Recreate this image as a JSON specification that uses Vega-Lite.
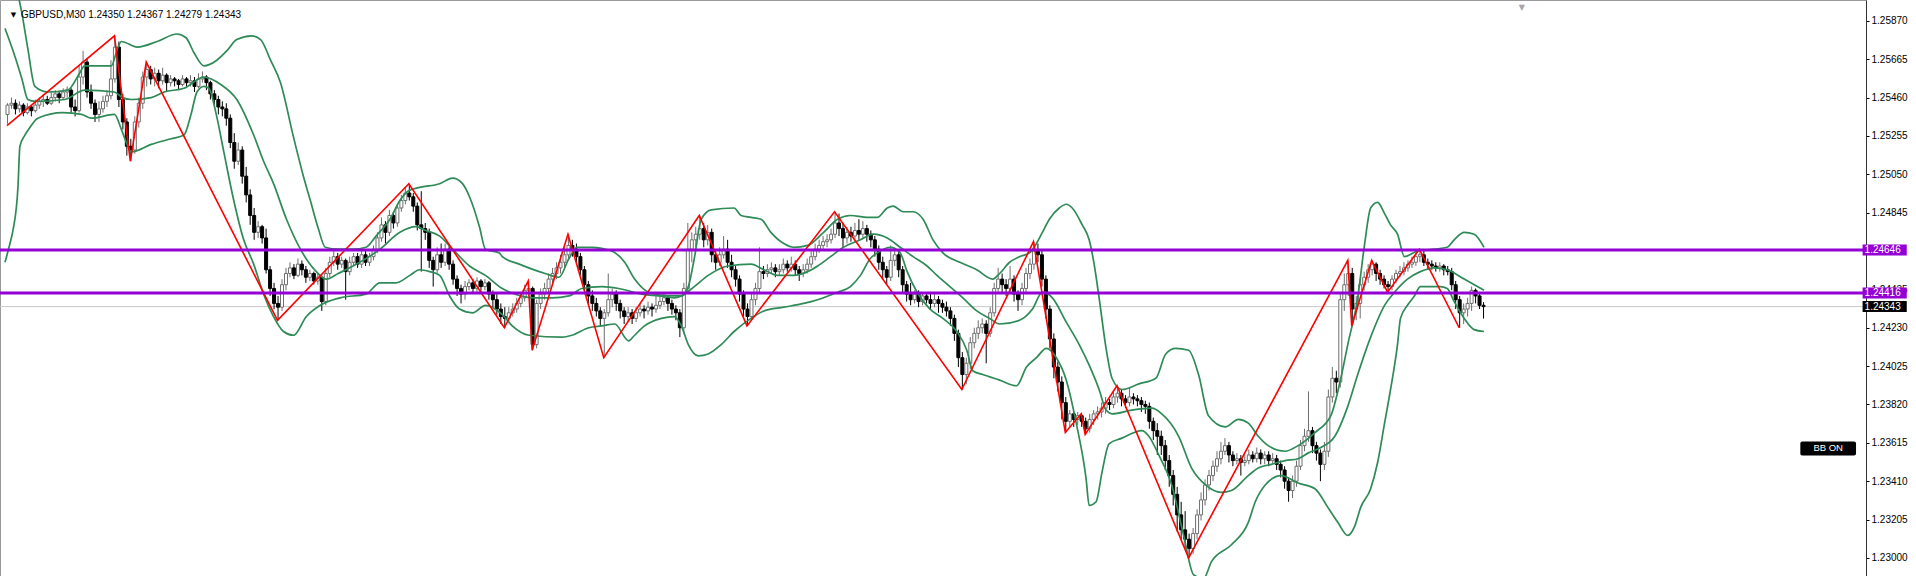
{
"$schema":"https://vega.github.io/schema/vega-lite/v6.json",
"width":1866,"height":576,
"padding":{"left":0,"top":0,"right":50,"bottom":0},
"autosize":{"type":"none"},
"background":"white",
"view":{"stroke":"#9a9a9a","strokeWidth":1},
"config":{"font":"Liberation Sans"},
"datasets":{
"candles":[
{"i":0,"o":1.2537,"h":1.2543,"l":1.2532,"c":1.2542},{"i":1,"o":1.2542,"h":1.2546,"l":1.2540,"c":1.2543},{"i":2,"o":1.2543,"h":1.2545,"l":1.2537,"c":1.2540},{"i":3,"o":1.2540,"h":1.2544,"l":1.2538,"c":1.2542},{"i":4,"o":1.2542,"h":1.2543,"l":1.2536,"c":1.2538},{"i":5,"o":1.2538,"h":1.2543,"l":1.2537,"c":1.2541},{"i":6,"o":1.2541,"h":1.2542,"l":1.2536,"c":1.2539},{"i":7,"o":1.2539,"h":1.2545,"l":1.2538,"c":1.2542},{"i":8,"o":1.2542,"h":1.2546,"l":1.2540,"c":1.2544},{"i":9,"o":1.2544,"h":1.2548,"l":1.2541,"c":1.2545},
{"i":10,"o":1.2545,"h":1.2547,"l":1.2542,"c":1.2543},{"i":11,"o":1.2543,"h":1.2549,"l":1.2542,"c":1.2546},{"i":12,"o":1.2546,"h":1.2550,"l":1.2544,"c":1.2548},{"i":13,"o":1.2548,"h":1.2549,"l":1.2543,"c":1.2546},{"i":14,"o":1.2546,"h":1.2551,"l":1.2545,"c":1.2549},{"i":15,"o":1.2549,"h":1.2552,"l":1.2546,"c":1.2550},{"i":16,"o":1.2550,"h":1.2551,"l":1.2538,"c":1.2541},{"i":17,"o":1.2541,"h":1.2545,"l":1.2536,"c":1.2539},{"i":18,"o":1.2539,"h":1.2563,"l":1.2538,"c":1.2557},{"i":19,"o":1.2557,"h":1.2571,"l":1.2553,"c":1.2565},
{"i":20,"o":1.2565,"h":1.2567,"l":1.2546,"c":1.2549},{"i":21,"o":1.2549,"h":1.2553,"l":1.2540,"c":1.2543},{"i":22,"o":1.2543,"h":1.2545,"l":1.2533,"c":1.2537},{"i":23,"o":1.2537,"h":1.2544,"l":1.2533,"c":1.2540},{"i":24,"o":1.2540,"h":1.2547,"l":1.2538,"c":1.2544},{"i":25,"o":1.2544,"h":1.2550,"l":1.2541,"c":1.2547},{"i":26,"o":1.2547,"h":1.2566,"l":1.2545,"c":1.2556},{"i":27,"o":1.2556,"h":1.2579,"l":1.2554,"c":1.2573},{"i":28,"o":1.2573,"h":1.2576,"l":1.2541,"c":1.2545},{"i":29,"o":1.2545,"h":1.2548,"l":1.2529,"c":1.2533},
{"i":30,"o":1.2533,"h":1.2535,"l":1.2515,"c":1.2520},{"i":31,"o":1.2520,"h":1.2524,"l":1.2512,"c":1.2518},{"i":32,"o":1.2518,"h":1.2536,"l":1.2516,"c":1.2533},{"i":33,"o":1.2533,"h":1.2546,"l":1.2530,"c":1.2543},{"i":34,"o":1.2543,"h":1.2560,"l":1.2540,"c":1.2557},{"i":35,"o":1.2557,"h":1.2565,"l":1.2552,"c":1.2561},{"i":36,"o":1.2561,"h":1.2563,"l":1.2553,"c":1.2556},{"i":37,"o":1.2556,"h":1.2562,"l":1.2552,"c":1.2559},{"i":38,"o":1.2559,"h":1.2561,"l":1.2551,"c":1.2555},{"i":39,"o":1.2555,"h":1.2562,"l":1.2553,"c":1.2558},
{"i":40,"o":1.2558,"h":1.2559,"l":1.2549,"c":1.2554},{"i":41,"o":1.2554,"h":1.2558,"l":1.2552,"c":1.2556},{"i":42,"o":1.2556,"h":1.2557,"l":1.2552,"c":1.2555},{"i":43,"o":1.2555,"h":1.2556,"l":1.2550,"c":1.2553},{"i":44,"o":1.2553,"h":1.2558,"l":1.2552,"c":1.2556},{"i":45,"o":1.2556,"h":1.2557,"l":1.2552,"c":1.2554},{"i":46,"o":1.2554,"h":1.2558,"l":1.2552,"c":1.2555},{"i":47,"o":1.2555,"h":1.2557,"l":1.2549,"c":1.2552},{"i":48,"o":1.2552,"h":1.2559,"l":1.2551,"c":1.2556},{"i":49,"o":1.2556,"h":1.2560,"l":1.2554,"c":1.2557},
{"i":50,"o":1.2557,"h":1.2558,"l":1.2550,"c":1.2554},{"i":51,"o":1.2554,"h":1.2555,"l":1.2545,"c":1.2548},{"i":52,"o":1.2548,"h":1.2550,"l":1.2542,"c":1.2545},{"i":53,"o":1.2545,"h":1.2547,"l":1.2537,"c":1.2541},{"i":54,"o":1.2541,"h":1.2544,"l":1.2536,"c":1.2540},{"i":55,"o":1.2540,"h":1.2543,"l":1.2531,"c":1.2535},{"i":56,"o":1.2535,"h":1.2537,"l":1.2519,"c":1.2522},{"i":57,"o":1.2522,"h":1.2527,"l":1.2508,"c":1.2512},{"i":58,"o":1.2512,"h":1.2522,"l":1.2510,"c":1.2518},{"i":59,"o":1.2518,"h":1.2520,"l":1.2500,"c":1.2504},
{"i":60,"o":1.2504,"h":1.2509,"l":1.2490,"c":1.2494},{"i":61,"o":1.2494,"h":1.2497,"l":1.2478,"c":1.2483},{"i":62,"o":1.2483,"h":1.2487,"l":1.2470,"c":1.2474},{"i":63,"o":1.2474,"h":1.2480,"l":1.2471,"c":1.2477},{"i":64,"o":1.2477,"h":1.2478,"l":1.2468,"c":1.2471},{"i":65,"o":1.2471,"h":1.2476,"l":1.2452,"c":1.2454},{"i":66,"o":1.2454,"h":1.2456,"l":1.2440,"c":1.2444},{"i":67,"o":1.2444,"h":1.2447,"l":1.2433,"c":1.2436},{"i":68,"o":1.2436,"h":1.2440,"l":1.2427,"c":1.2434},{"i":69,"o":1.2434,"h":1.2449,"l":1.2432,"c":1.2446},
{"i":70,"o":1.2446,"h":1.2455,"l":1.2443,"c":1.2452},{"i":71,"o":1.2452,"h":1.2458,"l":1.2450,"c":1.2455},{"i":72,"o":1.2455,"h":1.2457,"l":1.2449,"c":1.2451},{"i":73,"o":1.2451,"h":1.2460,"l":1.2450,"c":1.2457},{"i":74,"o":1.2457,"h":1.2459,"l":1.2451,"c":1.2454},{"i":75,"o":1.2454,"h":1.2456,"l":1.2447,"c":1.2450},{"i":76,"o":1.2450,"h":1.2454,"l":1.2448,"c":1.2452},{"i":77,"o":1.2452,"h":1.2453,"l":1.2446,"c":1.2448},{"i":78,"o":1.2448,"h":1.2452,"l":1.2446,"c":1.2450},{"i":79,"o":1.2450,"h":1.2451,"l":1.2432,"c":1.2437},
{"i":80,"o":1.2437,"h":1.2455,"l":1.2435,"c":1.2452},{"i":81,"o":1.2452,"h":1.2461,"l":1.2450,"c":1.2458},{"i":82,"o":1.2458,"h":1.2464,"l":1.2456,"c":1.2461},{"i":83,"o":1.2461,"h":1.2463,"l":1.2454,"c":1.2457},{"i":84,"o":1.2457,"h":1.2461,"l":1.2455,"c":1.2459},{"i":85,"o":1.2459,"h":1.2460,"l":1.2438,"c":1.2453},{"i":86,"o":1.2453,"h":1.2461,"l":1.2451,"c":1.2458},{"i":87,"o":1.2458,"h":1.2463,"l":1.2456,"c":1.2461},{"i":88,"o":1.2461,"h":1.2463,"l":1.2455,"c":1.2457},{"i":89,"o":1.2457,"h":1.2465,"l":1.2455,"c":1.2462},
{"i":90,"o":1.2462,"h":1.2464,"l":1.2456,"c":1.2458},{"i":91,"o":1.2458,"h":1.2463,"l":1.2456,"c":1.2461},{"i":92,"o":1.2461,"h":1.2467,"l":1.2459,"c":1.2465},{"i":93,"o":1.2465,"h":1.2474,"l":1.2463,"c":1.2471},{"i":94,"o":1.2471,"h":1.2482,"l":1.2469,"c":1.2478},{"i":95,"o":1.2478,"h":1.2480,"l":1.2468,"c":1.2474},{"i":96,"o":1.2474,"h":1.2486,"l":1.2472,"c":1.2483},{"i":97,"o":1.2483,"h":1.2485,"l":1.2476,"c":1.2479},{"i":98,"o":1.2479,"h":1.2489,"l":1.2477,"c":1.2487},{"i":99,"o":1.2487,"h":1.2494,"l":1.2485,"c":1.2491},
{"i":100,"o":1.2491,"h":1.2498,"l":1.2489,"c":1.2495},{"i":101,"o":1.2495,"h":1.2500,"l":1.2491,"c":1.2493},{"i":102,"o":1.2493,"h":1.2495,"l":1.2485,"c":1.2488},{"i":103,"o":1.2488,"h":1.2490,"l":1.2475,"c":1.2478},{"i":104,"o":1.2478,"h":1.2496,"l":1.2453,"c":1.2476},{"i":105,"o":1.2476,"h":1.2479,"l":1.2470,"c":1.2474},{"i":106,"o":1.2474,"h":1.2476,"l":1.2455,"c":1.2459},{"i":107,"o":1.2459,"h":1.2461,"l":1.2445,"c":1.2454},{"i":108,"o":1.2454,"h":1.2466,"l":1.2452,"c":1.2462},{"i":109,"o":1.2462,"h":1.2468,"l":1.2455,"c":1.2458},
{"i":110,"o":1.2458,"h":1.2468,"l":1.2456,"c":1.2465},{"i":111,"o":1.2465,"h":1.2467,"l":1.2454,"c":1.2457},{"i":112,"o":1.2457,"h":1.2459,"l":1.2446,"c":1.2449},{"i":113,"o":1.2449,"h":1.2451,"l":1.2440,"c":1.2444},{"i":114,"o":1.2444,"h":1.2446,"l":1.2436,"c":1.2441},{"i":115,"o":1.2441,"h":1.2448,"l":1.2438,"c":1.2445},{"i":116,"o":1.2445,"h":1.2449,"l":1.2443,"c":1.2447},{"i":117,"o":1.2447,"h":1.2449,"l":1.2441,"c":1.2444},{"i":118,"o":1.2444,"h":1.2450,"l":1.2442,"c":1.2448},{"i":119,"o":1.2448,"h":1.2449,"l":1.2442,"c":1.2445},
{"i":120,"o":1.2445,"h":1.2449,"l":1.2443,"c":1.2447},{"i":121,"o":1.2447,"h":1.2448,"l":1.2438,"c":1.2441},{"i":122,"o":1.2441,"h":1.2443,"l":1.2434,"c":1.2438},{"i":123,"o":1.2438,"h":1.2441,"l":1.2430,"c":1.2433},{"i":124,"o":1.2433,"h":1.2436,"l":1.2425,"c":1.2429},{"i":125,"o":1.2429,"h":1.2434,"l":1.2423,"c":1.2428},{"i":126,"o":1.2428,"h":1.2434,"l":1.2426,"c":1.2431},{"i":127,"o":1.2431,"h":1.2436,"l":1.2429,"c":1.2433},{"i":128,"o":1.2433,"h":1.2439,"l":1.2431,"c":1.2436},{"i":129,"o":1.2436,"h":1.2442,"l":1.2434,"c":1.2439},
{"i":130,"o":1.2439,"h":1.2446,"l":1.2437,"c":1.2443},{"i":131,"o":1.2443,"h":1.2448,"l":1.2440,"c":1.2444},{"i":132,"o":1.2444,"h":1.2445,"l":1.2411,"c":1.2414},{"i":133,"o":1.2414,"h":1.2438,"l":1.2412,"c":1.2436},{"i":134,"o":1.2436,"h":1.2444,"l":1.2433,"c":1.2441},{"i":135,"o":1.2441,"h":1.2447,"l":1.2438,"c":1.2444},{"i":136,"o":1.2444,"h":1.2452,"l":1.2441,"c":1.2449},{"i":137,"o":1.2449,"h":1.2455,"l":1.2446,"c":1.2452},{"i":138,"o":1.2452,"h":1.2458,"l":1.2449,"c":1.2455},{"i":139,"o":1.2455,"h":1.2462,"l":1.2452,"c":1.2458},
{"i":140,"o":1.2458,"h":1.2466,"l":1.2455,"c":1.2462},{"i":141,"o":1.2462,"h":1.2473,"l":1.2460,"c":1.2467},{"i":142,"o":1.2467,"h":1.2470,"l":1.2461,"c":1.2465},{"i":143,"o":1.2465,"h":1.2468,"l":1.2458,"c":1.2461},{"i":144,"o":1.2461,"h":1.2463,"l":1.2451,"c":1.2454},{"i":145,"o":1.2454,"h":1.2456,"l":1.2443,"c":1.2446},{"i":146,"o":1.2446,"h":1.2448,"l":1.2436,"c":1.2440},{"i":147,"o":1.2440,"h":1.2443,"l":1.2432,"c":1.2436},{"i":148,"o":1.2436,"h":1.2439,"l":1.2429,"c":1.2432},{"i":149,"o":1.2432,"h":1.2434,"l":1.2424,"c":1.2428},
{"i":150,"o":1.2428,"h":1.2433,"l":1.2407,"c":1.2431},{"i":151,"o":1.2431,"h":1.2452,"l":1.2429,"c":1.2438},{"i":152,"o":1.2438,"h":1.2444,"l":1.2434,"c":1.2441},{"i":153,"o":1.2441,"h":1.2443,"l":1.2432,"c":1.2436},{"i":154,"o":1.2436,"h":1.2438,"l":1.2428,"c":1.2432},{"i":155,"o":1.2432,"h":1.2434,"l":1.2425,"c":1.2429},{"i":156,"o":1.2429,"h":1.2434,"l":1.2426,"c":1.2431},{"i":157,"o":1.2431,"h":1.2433,"l":1.2425,"c":1.2428},{"i":158,"o":1.2428,"h":1.2434,"l":1.2426,"c":1.2431},{"i":159,"o":1.2431,"h":1.2436,"l":1.2429,"c":1.2433},
{"i":160,"o":1.2433,"h":1.2435,"l":1.2428,"c":1.2432},{"i":161,"o":1.2432,"h":1.2437,"l":1.2430,"c":1.2434},{"i":162,"o":1.2434,"h":1.2436,"l":1.2429,"c":1.2433},{"i":163,"o":1.2433,"h":1.2441,"l":1.2431,"c":1.2435},{"i":164,"o":1.2435,"h":1.2440,"l":1.2433,"c":1.2437},{"i":165,"o":1.2437,"h":1.2442,"l":1.2435,"c":1.2439},{"i":166,"o":1.2439,"h":1.2440,"l":1.2432,"c":1.2436},{"i":167,"o":1.2436,"h":1.2438,"l":1.2430,"c":1.2433},{"i":168,"o":1.2433,"h":1.2435,"l":1.2427,"c":1.2431},{"i":169,"o":1.2431,"h":1.2433,"l":1.2418,"c":1.2423},
{"i":170,"o":1.2423,"h":1.2447,"l":1.2420,"c":1.2444},{"i":171,"o":1.2444,"h":1.2479,"l":1.2442,"c":1.2465},{"i":172,"o":1.2465,"h":1.2474,"l":1.2458,"c":1.2470},{"i":173,"o":1.2470,"h":1.2477,"l":1.2466,"c":1.2473},{"i":174,"o":1.2473,"h":1.2483,"l":1.2470,"c":1.2476},{"i":175,"o":1.2476,"h":1.2479,"l":1.2466,"c":1.2470},{"i":176,"o":1.2470,"h":1.2478,"l":1.2467,"c":1.2474},{"i":177,"o":1.2474,"h":1.2476,"l":1.2458,"c":1.2462},{"i":178,"o":1.2462,"h":1.2464,"l":1.2454,"c":1.2458},{"i":179,"o":1.2458,"h":1.2466,"l":1.2456,"c":1.2462},
{"i":180,"o":1.2462,"h":1.2472,"l":1.2460,"c":1.2465},{"i":181,"o":1.2465,"h":1.2470,"l":1.2455,"c":1.2458},{"i":182,"o":1.2458,"h":1.2462,"l":1.2450,"c":1.2454},{"i":183,"o":1.2454,"h":1.2456,"l":1.2445,"c":1.2449},{"i":184,"o":1.2449,"h":1.2451,"l":1.2437,"c":1.2441},{"i":185,"o":1.2441,"h":1.2443,"l":1.2429,"c":1.2433},{"i":186,"o":1.2433,"h":1.2436,"l":1.2424,"c":1.2429},{"i":187,"o":1.2429,"h":1.2441,"l":1.2427,"c":1.2438},{"i":188,"o":1.2438,"h":1.2447,"l":1.2435,"c":1.2444},{"i":189,"o":1.2444,"h":1.2466,"l":1.2441,"c":1.2453},
{"i":190,"o":1.2453,"h":1.2456,"l":1.2449,"c":1.2452},{"i":191,"o":1.2452,"h":1.2457,"l":1.2450,"c":1.2454},{"i":192,"o":1.2454,"h":1.2458,"l":1.2452,"c":1.2455},{"i":193,"o":1.2455,"h":1.2457,"l":1.2450,"c":1.2453},{"i":194,"o":1.2453,"h":1.2457,"l":1.2451,"c":1.2454},{"i":195,"o":1.2454,"h":1.2460,"l":1.2452,"c":1.2457},{"i":196,"o":1.2457,"h":1.2459,"l":1.2453,"c":1.2455},{"i":197,"o":1.2455,"h":1.2461,"l":1.2453,"c":1.2457},{"i":198,"o":1.2457,"h":1.2459,"l":1.2451,"c":1.2454},{"i":199,"o":1.2454,"h":1.2456,"l":1.2448,"c":1.2452},
{"i":200,"o":1.2452,"h":1.2457,"l":1.2450,"c":1.2454},{"i":201,"o":1.2454,"h":1.2460,"l":1.2452,"c":1.2457},{"i":202,"o":1.2457,"h":1.2464,"l":1.2455,"c":1.2461},{"i":203,"o":1.2461,"h":1.2468,"l":1.2459,"c":1.2465},{"i":204,"o":1.2465,"h":1.2470,"l":1.2463,"c":1.2467},{"i":205,"o":1.2467,"h":1.2472,"l":1.2465,"c":1.2469},{"i":206,"o":1.2469,"h":1.2473,"l":1.2466,"c":1.2470},{"i":207,"o":1.2470,"h":1.2476,"l":1.2468,"c":1.2473},{"i":208,"o":1.2473,"h":1.2485,"l":1.2471,"c":1.2479},{"i":209,"o":1.2479,"h":1.2484,"l":1.2472,"c":1.2476},
{"i":210,"o":1.2476,"h":1.2479,"l":1.2466,"c":1.2471},{"i":211,"o":1.2471,"h":1.2477,"l":1.2468,"c":1.2474},{"i":212,"o":1.2474,"h":1.2477,"l":1.2469,"c":1.2472},{"i":213,"o":1.2472,"h":1.2479,"l":1.2470,"c":1.2475},{"i":214,"o":1.2475,"h":1.2481,"l":1.2470,"c":1.2473},{"i":215,"o":1.2473,"h":1.2480,"l":1.2471,"c":1.2476},{"i":216,"o":1.2476,"h":1.2478,"l":1.2469,"c":1.2473},{"i":217,"o":1.2473,"h":1.2475,"l":1.2466,"c":1.2470},{"i":218,"o":1.2470,"h":1.2472,"l":1.2461,"c":1.2465},{"i":219,"o":1.2465,"h":1.2467,"l":1.2454,"c":1.2458},
{"i":220,"o":1.2458,"h":1.2461,"l":1.2449,"c":1.2454},{"i":221,"o":1.2454,"h":1.2456,"l":1.2446,"c":1.2450},{"i":222,"o":1.2450,"h":1.2467,"l":1.2448,"c":1.2459},{"i":223,"o":1.2459,"h":1.2466,"l":1.2456,"c":1.2462},{"i":224,"o":1.2462,"h":1.2464,"l":1.2450,"c":1.2454},{"i":225,"o":1.2454,"h":1.2456,"l":1.2442,"c":1.2446},{"i":226,"o":1.2446,"h":1.2448,"l":1.2437,"c":1.2441},{"i":227,"o":1.2441,"h":1.2447,"l":1.2435,"c":1.2438},{"i":228,"o":1.2438,"h":1.2443,"l":1.2436,"c":1.2441},{"i":229,"o":1.2441,"h":1.2443,"l":1.2434,"c":1.2437},
{"i":230,"o":1.2437,"h":1.2442,"l":1.2435,"c":1.2440},{"i":231,"o":1.2440,"h":1.2442,"l":1.2436,"c":1.2438},{"i":232,"o":1.2438,"h":1.2441,"l":1.2433,"c":1.2436},{"i":233,"o":1.2436,"h":1.2441,"l":1.2434,"c":1.2438},{"i":234,"o":1.2438,"h":1.2440,"l":1.2431,"c":1.2436},{"i":235,"o":1.2436,"h":1.2438,"l":1.2431,"c":1.2434},{"i":236,"o":1.2434,"h":1.2437,"l":1.2429,"c":1.2432},{"i":237,"o":1.2432,"h":1.2434,"l":1.2424,"c":1.2428},{"i":238,"o":1.2428,"h":1.2430,"l":1.2416,"c":1.2420},{"i":239,"o":1.2420,"h":1.2422,"l":1.2402,"c":1.2407},
{"i":240,"o":1.2407,"h":1.2410,"l":1.2390,"c":1.2398},{"i":241,"o":1.2398,"h":1.2407,"l":1.2393,"c":1.2404},{"i":242,"o":1.2404,"h":1.2418,"l":1.2401,"c":1.2415},{"i":243,"o":1.2415,"h":1.2423,"l":1.2412,"c":1.2420},{"i":244,"o":1.2420,"h":1.2427,"l":1.2417,"c":1.2423},{"i":245,"o":1.2423,"h":1.2428,"l":1.2420,"c":1.2425},{"i":246,"o":1.2425,"h":1.2427,"l":1.2404,"c":1.2420},{"i":247,"o":1.2420,"h":1.2434,"l":1.2418,"c":1.2431},{"i":248,"o":1.2431,"h":1.2447,"l":1.2429,"c":1.2444},{"i":249,"o":1.2444,"h":1.2455,"l":1.2441,"c":1.2449},
{"i":250,"o":1.2449,"h":1.2452,"l":1.2442,"c":1.2446},{"i":251,"o":1.2446,"h":1.2449,"l":1.2440,"c":1.2444},{"i":252,"o":1.2444,"h":1.2456,"l":1.2441,"c":1.2449},{"i":253,"o":1.2449,"h":1.2451,"l":1.2437,"c":1.2441},{"i":254,"o":1.2441,"h":1.2443,"l":1.2432,"c":1.2438},{"i":255,"o":1.2438,"h":1.2447,"l":1.2435,"c":1.2444},{"i":256,"o":1.2444,"h":1.2455,"l":1.2441,"c":1.2452},{"i":257,"o":1.2452,"h":1.2460,"l":1.2449,"c":1.2457},{"i":258,"o":1.2457,"h":1.2469,"l":1.2454,"c":1.2464},{"i":259,"o":1.2464,"h":1.2468,"l":1.2458,"c":1.2462},
{"i":260,"o":1.2462,"h":1.2465,"l":1.2445,"c":1.2449},{"i":261,"o":1.2449,"h":1.2451,"l":1.2428,"c":1.2433},{"i":262,"o":1.2433,"h":1.2435,"l":1.2412,"c":1.2417},{"i":263,"o":1.2417,"h":1.2420,"l":1.2396,"c":1.2402},{"i":264,"o":1.2402,"h":1.2405,"l":1.2389,"c":1.2394},{"i":265,"o":1.2394,"h":1.2397,"l":1.2374,"c":1.2383},{"i":266,"o":1.2383,"h":1.2386,"l":1.2367,"c":1.2373},{"i":267,"o":1.2373,"h":1.2379,"l":1.2370,"c":1.2377},{"i":268,"o":1.2377,"h":1.2378,"l":1.2370,"c":1.2374},{"i":269,"o":1.2374,"h":1.2378,"l":1.2371,"c":1.2376},
{"i":270,"o":1.2376,"h":1.2377,"l":1.2370,"c":1.2373},{"i":271,"o":1.2373,"h":1.2375,"l":1.2366,"c":1.2369},{"i":272,"o":1.2369,"h":1.2377,"l":1.2367,"c":1.2374},{"i":273,"o":1.2374,"h":1.2379,"l":1.2371,"c":1.2377},{"i":274,"o":1.2377,"h":1.2381,"l":1.2374,"c":1.2378},{"i":275,"o":1.2378,"h":1.2383,"l":1.2375,"c":1.2380},{"i":276,"o":1.2380,"h":1.2386,"l":1.2377,"c":1.2383},{"i":277,"o":1.2383,"h":1.2385,"l":1.2379,"c":1.2382},{"i":278,"o":1.2382,"h":1.2389,"l":1.2380,"c":1.2386},{"i":279,"o":1.2386,"h":1.2392,"l":1.2383,"c":1.2388},
{"i":280,"o":1.2388,"h":1.2390,"l":1.2381,"c":1.2385},{"i":281,"o":1.2385,"h":1.2387,"l":1.2380,"c":1.2383},{"i":282,"o":1.2383,"h":1.2391,"l":1.2381,"c":1.2386},{"i":283,"o":1.2386,"h":1.2388,"l":1.2382,"c":1.2385},{"i":284,"o":1.2385,"h":1.2387,"l":1.2381,"c":1.2384},{"i":285,"o":1.2384,"h":1.2386,"l":1.2378,"c":1.2382},{"i":286,"o":1.2382,"h":1.2384,"l":1.2377,"c":1.2381},{"i":287,"o":1.2381,"h":1.2383,"l":1.2369,"c":1.2373},{"i":288,"o":1.2373,"h":1.2375,"l":1.2363,"c":1.2368},{"i":289,"o":1.2368,"h":1.2372,"l":1.2355,"c":1.2365},
{"i":290,"o":1.2365,"h":1.2368,"l":1.2355,"c":1.2360},{"i":291,"o":1.2360,"h":1.2363,"l":1.2347,"c":1.2352},{"i":292,"o":1.2352,"h":1.2355,"l":1.2338,"c":1.2344},{"i":293,"o":1.2344,"h":1.2347,"l":1.2328,"c":1.2334},{"i":294,"o":1.2334,"h":1.2338,"l":1.2314,"c":1.2323},{"i":295,"o":1.2323,"h":1.2330,"l":1.2310,"c":1.2315},{"i":296,"o":1.2315,"h":1.2325,"l":1.2305,"c":1.2310},{"i":297,"o":1.2310,"h":1.2313,"l":1.2300,"c":1.2305},{"i":298,"o":1.2305,"h":1.2316,"l":1.2302,"c":1.2313},{"i":299,"o":1.2313,"h":1.2326,"l":1.2310,"c":1.2323},
{"i":300,"o":1.2323,"h":1.2335,"l":1.2320,"c":1.2331},{"i":301,"o":1.2331,"h":1.2342,"l":1.2328,"c":1.2339},{"i":302,"o":1.2339,"h":1.2347,"l":1.2336,"c":1.2344},{"i":303,"o":1.2344,"h":1.2352,"l":1.2341,"c":1.2349},{"i":304,"o":1.2349,"h":1.2357,"l":1.2346,"c":1.2353},{"i":305,"o":1.2353,"h":1.2362,"l":1.2350,"c":1.2357},{"i":306,"o":1.2357,"h":1.2364,"l":1.2355,"c":1.2360},{"i":307,"o":1.2360,"h":1.2362,"l":1.2351,"c":1.2355},{"i":308,"o":1.2355,"h":1.2357,"l":1.2349,"c":1.2352},{"i":309,"o":1.2352,"h":1.2356,"l":1.2350,"c":1.2353},
{"i":310,"o":1.2353,"h":1.2355,"l":1.2344,"c":1.2351},{"i":311,"o":1.2351,"h":1.2355,"l":1.2349,"c":1.2352},{"i":312,"o":1.2352,"h":1.2358,"l":1.2350,"c":1.2355},{"i":313,"o":1.2355,"h":1.2357,"l":1.2351,"c":1.2353},{"i":314,"o":1.2353,"h":1.2359,"l":1.2351,"c":1.2356},{"i":315,"o":1.2356,"h":1.2358,"l":1.2350,"c":1.2353},{"i":316,"o":1.2353,"h":1.2357,"l":1.2350,"c":1.2355},{"i":317,"o":1.2355,"h":1.2357,"l":1.2349,"c":1.2352},{"i":318,"o":1.2352,"h":1.2356,"l":1.2350,"c":1.2353},{"i":319,"o":1.2353,"h":1.2355,"l":1.2347,"c":1.2350},
{"i":320,"o":1.2350,"h":1.2352,"l":1.2343,"c":1.2347},{"i":321,"o":1.2347,"h":1.2349,"l":1.2337,"c":1.2341},{"i":322,"o":1.2341,"h":1.2343,"l":1.2330,"c":1.2336},{"i":323,"o":1.2336,"h":1.2344,"l":1.2332,"c":1.2341},{"i":324,"o":1.2341,"h":1.2352,"l":1.2338,"c":1.2349},{"i":325,"o":1.2349,"h":1.2363,"l":1.2347,"c":1.2360},{"i":326,"o":1.2360,"h":1.2369,"l":1.2357,"c":1.2365},{"i":327,"o":1.2365,"h":1.2389,"l":1.2362,"c":1.2368},{"i":328,"o":1.2368,"h":1.2370,"l":1.2356,"c":1.2360},{"i":329,"o":1.2360,"h":1.2362,"l":1.2352,"c":1.2356},
{"i":330,"o":1.2356,"h":1.2358,"l":1.2341,"c":1.2350},{"i":331,"o":1.2350,"h":1.2362,"l":1.2347,"c":1.2357},{"i":332,"o":1.2357,"h":1.2390,"l":1.2354,"c":1.2386},{"i":333,"o":1.2386,"h":1.2402,"l":1.2383,"c":1.2396},{"i":334,"o":1.2396,"h":1.2400,"l":1.2388,"c":1.2394},{"i":335,"o":1.2394,"h":1.2441,"l":1.2391,"c":1.2438},{"i":336,"o":1.2438,"h":1.2452,"l":1.2432,"c":1.2446},{"i":337,"o":1.2446,"h":1.2459,"l":1.2440,"c":1.2452},{"i":338,"o":1.2452,"h":1.2455,"l":1.2424,"c":1.2433},{"i":339,"o":1.2433,"h":1.2440,"l":1.2427,"c":1.2436},
{"i":340,"o":1.2436,"h":1.2449,"l":1.2428,"c":1.2446},{"i":341,"o":1.2446,"h":1.2453,"l":1.2443,"c":1.2450},{"i":342,"o":1.2450,"h":1.2457,"l":1.2447,"c":1.2454},{"i":343,"o":1.2454,"h":1.2459,"l":1.2451,"c":1.2457},{"i":344,"o":1.2457,"h":1.2458,"l":1.2448,"c":1.2452},{"i":345,"o":1.2452,"h":1.2454,"l":1.2446,"c":1.2449},{"i":346,"o":1.2449,"h":1.2451,"l":1.2444,"c":1.2446},{"i":347,"o":1.2446,"h":1.2448,"l":1.2442,"c":1.2445},{"i":348,"o":1.2445,"h":1.2451,"l":1.2443,"c":1.2449},{"i":349,"o":1.2449,"h":1.2454,"l":1.2447,"c":1.2452},
{"i":350,"o":1.2452,"h":1.2456,"l":1.2450,"c":1.2453},{"i":351,"o":1.2453,"h":1.2458,"l":1.2451,"c":1.2455},{"i":352,"o":1.2455,"h":1.2459,"l":1.2453,"c":1.2457},{"i":353,"o":1.2457,"h":1.2461,"l":1.2455,"c":1.2458},{"i":354,"o":1.2458,"h":1.2463,"l":1.2456,"c":1.2461},{"i":355,"o":1.2461,"h":1.2465,"l":1.2458,"c":1.2462},{"i":356,"o":1.2462,"h":1.2464,"l":1.2456,"c":1.2458},{"i":357,"o":1.2458,"h":1.2460,"l":1.2454,"c":1.2457},{"i":358,"o":1.2457,"h":1.2459,"l":1.2454,"c":1.2456},{"i":359,"o":1.2456,"h":1.2458,"l":1.2453,"c":1.2455},
{"i":360,"o":1.2455,"h":1.2458,"l":1.2453,"c":1.2456},{"i":361,"o":1.2456,"h":1.2457,"l":1.2451,"c":1.2454},{"i":362,"o":1.2454,"h":1.2456,"l":1.2451,"c":1.2453},{"i":363,"o":1.2453,"h":1.2455,"l":1.2443,"c":1.2446},{"i":364,"o":1.2446,"h":1.2448,"l":1.2433,"c":1.2438},{"i":365,"o":1.2438,"h":1.2440,"l":1.2423,"c":1.2431},{"i":366,"o":1.2431,"h":1.2436,"l":1.2425,"c":1.2433},{"i":367,"o":1.2433,"h":1.2439,"l":1.2429,"c":1.2436},{"i":368,"o":1.2436,"h":1.2445,"l":1.2432,"c":1.2443},{"i":369,"o":1.2443,"h":1.2444,"l":1.2436,"c":1.2440},
{"i":370,"o":1.2440,"h":1.2442,"l":1.2433,"c":1.2435},{"i":371,"o":1.24350,"h":1.24367,"l":1.24279,"c":1.24343}
],
"bands":[
{"b":"U","i":0,"p":1.2633},{"b":"U","i":2,"p":1.2609},{"b":"U","i":3.75,"p":1.2591},{"b":"U","i":5.25,"p":1.2572},{"b":"U","i":7,"p":1.2552},{"b":"U","i":10.25,"p":1.2549},{"b":"U","i":15.25,"p":1.2550},{"b":"U","i":18.25,"p":1.2559},{"b":"U","i":19.5,"p":1.2563},{"b":"U","i":26.25,"p":1.2563},{"b":"U","i":27.75,"p":1.2572},{"b":"U","i":28.75,"p":1.2576},{"b":"U","i":32.75,"p":1.2573},{"b":"U","i":37.75,"p":1.2576},{"b":"U","i":42.75,"p":1.2580},{"b":"U","i":45,"p":1.2578},{"b":"U","i":47,"p":1.2570},{"b":"U","i":49.5,"p":1.2563},{"b":"U","i":52.75,"p":1.2566},{"b":"U","i":55.25,"p":1.2571},{"b":"U","i":57.75,"p":1.2577},{"b":"U","i":61.5,"p":1.2579},{"b":"U","i":63.75,"p":1.2577},{"b":"U","i":66.25,"p":1.2566},{"b":"U","i":68.75,"p":1.2554},{"b":"U","i":72,"p":1.2525},{"b":"U","i":74.5,"p":1.2504},{"b":"U","i":76.25,"p":1.2491},{"b":"U","i":78.25,"p":1.2476},{"b":"U","i":80,"p":1.2466},{"b":"U","i":83.25,"p":1.2465},{"b":"U","i":87,"p":1.2465},{"b":"U","i":90.25,"p":1.2466},{"b":"U","i":92.75,"p":1.2472},{"b":"U","i":96.25,"p":1.2481},{"b":"U","i":98.75,"p":1.2491},{"b":"U","i":100.75,"p":1.2496},{"b":"U","i":103.75,"p":1.2498},{"b":"U","i":108.75,"p":1.2500},{"b":"U","i":112,"p":1.2503},{"b":"U","i":114.5,"p":1.2500},{"b":"U","i":116.25,"p":1.2493},{"b":"U","i":118.75,"p":1.2477},{"b":"U","i":120.25,"p":1.2465},{"b":"U","i":123.75,"p":1.2463},{"b":"U","i":124.5,"p":1.2461},{"b":"U","i":128.75,"p":1.2457},{"b":"U","i":135.25,"p":1.2452},{"b":"U","i":138.75,"p":1.2450},{"b":"U","i":141.25,"p":1.2460},{"b":"U","i":143.25,"p":1.2466},{"b":"U","i":147,"p":1.2466},{"b":"U","i":152,"p":1.2464},{"b":"U","i":155.25,"p":1.2458},{"b":"U","i":157.75,"p":1.2449},{"b":"U","i":161.25,"p":1.2442},{"b":"U","i":166.25,"p":1.2440},{"b":"U","i":169.5,"p":1.2440},{"b":"U","i":171.25,"p":1.2445},{"b":"U","i":172.75,"p":1.2460},{"b":"U","i":174.5,"p":1.2481},{"b":"U","i":177,"p":1.2486},{"b":"U","i":182.75,"p":1.2487},{"b":"U","i":184.5,"p":1.2483},{"b":"U","i":187,"p":1.2482},{"b":"U","i":189.5,"p":1.2481},{"b":"U","i":192,"p":1.2474},{"b":"U","i":195.25,"p":1.2468},{"b":"U","i":197.75,"p":1.2466},{"b":"U","i":201.25,"p":1.2467},{"b":"U","i":205.25,"p":1.2474},{"b":"U","i":208.75,"p":1.2481},{"b":"U","i":212,"p":1.2483},{"b":"U","i":216.25,"p":1.2482},{"b":"U","i":218.75,"p":1.2482},{"b":"U","i":221.25,"p":1.2487},{"b":"U","i":222.75,"p":1.2488},{"b":"U","i":225.25,"p":1.2485},{"b":"U","i":227.75,"p":1.2485},{"b":"U","i":230.25,"p":1.2481},{"b":"U","i":232.75,"p":1.2470},{"b":"U","i":235.25,"p":1.2463},{"b":"U","i":239.5,"p":1.2458},{"b":"U","i":243.75,"p":1.2454},{"b":"U","i":247.75,"p":1.2449},{"b":"U","i":249.5,"p":1.2452},{"b":"U","i":252,"p":1.2458},{"b":"U","i":254.5,"p":1.2461},{"b":"U","i":257,"p":1.2463},{"b":"U","i":258.75,"p":1.2468},{"b":"U","i":260.25,"p":1.2474},{"b":"U","i":262,"p":1.2481},{"b":"U","i":264.5,"p":1.2487},{"b":"U","i":266.25,"p":1.2489},{"b":"U","i":267.75,"p":1.2487},{"b":"U","i":270.25,"p":1.2478},{"b":"U","i":272,"p":1.2470},{"b":"U","i":273.25,"p":1.2457},{"b":"U","i":274.5,"p":1.2439},{"b":"U","i":276.25,"p":1.2412},{"b":"U","i":277.75,"p":1.2396},{"b":"U","i":280.25,"p":1.2390},{"b":"U","i":284.5,"p":1.2393},{"b":"U","i":288.75,"p":1.2396},{"b":"U","i":291.25,"p":1.2409},{"b":"U","i":293.75,"p":1.2412},{"b":"U","i":297,"p":1.2411},{"b":"U","i":299.5,"p":1.2398},{"b":"U","i":302,"p":1.2376},{"b":"U","i":306.25,"p":1.2370},{"b":"U","i":309.5,"p":1.2374},{"b":"U","i":312,"p":1.2372},{"b":"U","i":314.5,"p":1.2365},{"b":"U","i":317,"p":1.2360},{"b":"U","i":321.25,"p":1.2357},{"b":"U","i":324.5,"p":1.2360},{"b":"U","i":328.75,"p":1.2367},{"b":"U","i":332.75,"p":1.2376},{"b":"U","i":335.25,"p":1.2396},{"b":"U","i":337,"p":1.2414},{"b":"U","i":339.5,"p":1.2439},{"b":"U","i":341.25,"p":1.2468},{"b":"U","i":342.75,"p":1.2487},{"b":"U","i":344.5,"p":1.2490},{"b":"U","i":346.25,"p":1.2484},{"b":"U","i":347.75,"p":1.2478},{"b":"U","i":349.5,"p":1.2473},{"b":"U","i":351.25,"p":1.2461},{"b":"U","i":354.5,"p":1.2464},{"b":"U","i":358.75,"p":1.2465},{"b":"U","i":362,"p":1.2466},{"b":"U","i":363.75,"p":1.2470},{"b":"U","i":366.25,"p":1.2474},{"b":"U","i":368.75,"p":1.2473},{"b":"U","i":371.25,"p":1.2466},
{"b":"M","i":-0.5,"p":1.2583},{"b":"M","i":2,"p":1.2568},{"b":"M","i":3.75,"p":1.2556},{"b":"M","i":5.25,"p":1.2545},{"b":"M","i":7,"p":1.2544},{"b":"M","i":14.5,"p":1.2545},{"b":"M","i":19.5,"p":1.2550},{"b":"M","i":27,"p":1.2549},{"b":"M","i":29,"p":1.2546},{"b":"M","i":31.25,"p":1.2545},{"b":"M","i":36.25,"p":1.2546},{"b":"M","i":39.5,"p":1.2549},{"b":"M","i":44.5,"p":1.2551},{"b":"M","i":49.5,"p":1.2557},{"b":"M","i":53.75,"p":1.2553},{"b":"M","i":57.75,"p":1.2545},{"b":"M","i":62,"p":1.2526},{"b":"M","i":64.5,"p":1.2512},{"b":"M","i":67,"p":1.2500},{"b":"M","i":70.25,"p":1.2481},{"b":"M","i":73.75,"p":1.2465},{"b":"M","i":77.75,"p":1.2453},{"b":"M","i":80.25,"p":1.2449},{"b":"M","i":83.25,"p":1.2452},{"b":"M","i":87,"p":1.2456},{"b":"M","i":93.75,"p":1.2465},{"b":"M","i":98.75,"p":1.2474},{"b":"M","i":102.75,"p":1.2477},{"b":"M","i":105.25,"p":1.2475},{"b":"M","i":108.75,"p":1.2472},{"b":"M","i":112,"p":1.2465},{"b":"M","i":116.25,"p":1.2456},{"b":"M","i":120.25,"p":1.2451},{"b":"M","i":124.5,"p":1.2444},{"b":"M","i":132.75,"p":1.2439},{"b":"M","i":137,"p":1.2439},{"b":"M","i":141.25,"p":1.2440},{"b":"M","i":144.5,"p":1.2444},{"b":"M","i":149.5,"p":1.2445},{"b":"M","i":153.75,"p":1.2444},{"b":"M","i":159.5,"p":1.2441},{"b":"M","i":163.75,"p":1.2440},{"b":"M","i":167.75,"p":1.2439},{"b":"M","i":169.5,"p":1.2440},{"b":"M","i":172.75,"p":1.2445},{"b":"M","i":176.25,"p":1.2451},{"b":"M","i":181.25,"p":1.2456},{"b":"M","i":187,"p":1.2457},{"b":"M","i":190.25,"p":1.2454},{"b":"M","i":193.75,"p":1.2451},{"b":"M","i":197.75,"p":1.2451},{"b":"M","i":201.25,"p":1.2453},{"b":"M","i":203.75,"p":1.2456},{"b":"M","i":207,"p":1.2461},{"b":"M","i":210.25,"p":1.2466},{"b":"M","i":214.5,"p":1.2470},{"b":"M","i":217.75,"p":1.2473},{"b":"M","i":221.25,"p":1.2471},{"b":"M","i":224.5,"p":1.2466},{"b":"M","i":227.75,"p":1.2461},{"b":"M","i":231.25,"p":1.2456},{"b":"M","i":233.75,"p":1.2451},{"b":"M","i":237,"p":1.2445},{"b":"M","i":240.25,"p":1.2439},{"b":"M","i":243.75,"p":1.2432},{"b":"M","i":247,"p":1.2428},{"b":"M","i":249.5,"p":1.2425},{"b":"M","i":254.5,"p":1.2427},{"b":"M","i":257.75,"p":1.2433},{"b":"M","i":260.25,"p":1.2442},{"b":"M","i":262.75,"p":1.2439},{"b":"M","i":266.25,"p":1.2426},{"b":"M","i":269.5,"p":1.2414},{"b":"M","i":272,"p":1.2403},{"b":"M","i":274.5,"p":1.2390},{"b":"M","i":276.25,"p":1.2379},{"b":"M","i":277.75,"p":1.2377},{"b":"M","i":282.75,"p":1.2379},{"b":"M","i":287.75,"p":1.2380},{"b":"M","i":290.25,"p":1.2377},{"b":"M","i":294.5,"p":1.2365},{"b":"M","i":297.75,"p":1.2348},{"b":"M","i":301.25,"p":1.2339},{"b":"M","i":305.25,"p":1.2335},{"b":"M","i":307.75,"p":1.2336},{"b":"M","i":312,"p":1.2344},{"b":"M","i":314.5,"p":1.2348},{"b":"M","i":317.75,"p":1.2350},{"b":"M","i":321.25,"p":1.2352},{"b":"M","i":324.5,"p":1.2353},{"b":"M","i":327,"p":1.2356},{"b":"M","i":330.25,"p":1.2359},{"b":"M","i":333.75,"p":1.2365},{"b":"M","i":337,"p":1.2381},{"b":"M","i":339.5,"p":1.2398},{"b":"M","i":342.75,"p":1.2418},{"b":"M","i":346.25,"p":1.2435},{"b":"M","i":348.75,"p":1.2442},{"b":"M","i":352,"p":1.2449},{"b":"M","i":355.25,"p":1.2453},{"b":"M","i":358.75,"p":1.2455},{"b":"M","i":362,"p":1.2454},{"b":"M","i":366.25,"p":1.2449},{"b":"M","i":371.25,"p":1.2443},
{"b":"L","i":-0.5,"p":1.2458},{"b":"L","i":0.75,"p":1.2468},{"b":"L","i":1.5,"p":1.2475},{"b":"L","i":2.75,"p":1.2498},{"b":"L","i":3.25,"p":1.2520},{"b":"L","i":4.5,"p":1.2526},{"b":"L","i":5.75,"p":1.2530},{"b":"L","i":7.75,"p":1.2535},{"b":"L","i":14,"p":1.2538},{"b":"L","i":18.75,"p":1.2537},{"b":"L","i":21.25,"p":1.2535},{"b":"L","i":27,"p":1.2537},{"b":"L","i":28.75,"p":1.2529},{"b":"L","i":30,"p":1.2522},{"b":"L","i":31.25,"p":1.2517},{"b":"L","i":36.25,"p":1.2521},{"b":"L","i":41.25,"p":1.2524},{"b":"L","i":44.5,"p":1.2526},{"b":"L","i":46.25,"p":1.2537},{"b":"L","i":47.75,"p":1.2549},{"b":"L","i":49.5,"p":1.2552},{"b":"L","i":50.75,"p":1.2551},{"b":"L","i":52.5,"p":1.2538},{"b":"L","i":54.5,"p":1.2517},{"b":"L","i":57,"p":1.2491},{"b":"L","i":59.5,"p":1.2470},{"b":"L","i":62,"p":1.2457},{"b":"L","i":64.5,"p":1.2441},{"b":"L","i":67,"p":1.2429},{"b":"L","i":69.5,"p":1.2421},{"b":"L","i":72,"p":1.2419},{"b":"L","i":75.25,"p":1.2429},{"b":"L","i":78.75,"p":1.2435},{"b":"L","i":83.75,"p":1.2439},{"b":"L","i":90.25,"p":1.2441},{"b":"L","i":93.75,"p":1.2447},{"b":"L","i":97.75,"p":1.2447},{"b":"L","i":101.25,"p":1.2451},{"b":"L","i":103.75,"p":1.2454},{"b":"L","i":106.25,"p":1.2453},{"b":"L","i":108.75,"p":1.2451},{"b":"L","i":111.25,"p":1.2440},{"b":"L","i":113.75,"p":1.2433},{"b":"L","i":117,"p":1.2431},{"b":"L","i":120.25,"p":1.2435},{"b":"L","i":124.5,"p":1.2430},{"b":"L","i":127,"p":1.2424},{"b":"L","i":131.25,"p":1.2419},{"b":"L","i":139.5,"p":1.2418},{"b":"L","i":142,"p":1.2419},{"b":"L","i":146.25,"p":1.2423},{"b":"L","i":149.5,"p":1.2424},{"b":"L","i":152.75,"p":1.2425},{"b":"L","i":156.25,"p":1.2416},{"b":"L","i":157.75,"p":1.2419},{"b":"L","i":160.25,"p":1.2424},{"b":"L","i":164.5,"p":1.2428},{"b":"L","i":167.75,"p":1.2429},{"b":"L","i":169.5,"p":1.2424},{"b":"L","i":171.25,"p":1.2414},{"b":"L","i":173.75,"p":1.2408},{"b":"L","i":176.25,"p":1.2409},{"b":"L","i":179.5,"p":1.2414},{"b":"L","i":182.75,"p":1.2421},{"b":"L","i":187,"p":1.2428},{"b":"L","i":190.25,"p":1.2432},{"b":"L","i":195.25,"p":1.2434},{"b":"L","i":200.25,"p":1.2436},{"b":"L","i":203.75,"p":1.2438},{"b":"L","i":208.75,"p":1.2442},{"b":"L","i":212,"p":1.2445},{"b":"L","i":214.5,"p":1.2451},{"b":"L","i":217,"p":1.2460},{"b":"L","i":218.75,"p":1.2463},{"b":"L","i":222,"p":1.2466},{"b":"L","i":224.5,"p":1.2463},{"b":"L","i":226.25,"p":1.2453},{"b":"L","i":228.75,"p":1.2442},{"b":"L","i":232,"p":1.2433},{"b":"L","i":235.25,"p":1.2428},{"b":"L","i":238.75,"p":1.2421},{"b":"L","i":241.25,"p":1.2411},{"b":"L","i":242.75,"p":1.2400},{"b":"L","i":245.25,"p":1.2398},{"b":"L","i":249.5,"p":1.2395},{"b":"L","i":253.75,"p":1.2392},{"b":"L","i":256.25,"p":1.2402},{"b":"L","i":258.75,"p":1.2407},{"b":"L","i":261.25,"p":1.2412},{"b":"L","i":263.75,"p":1.2407},{"b":"L","i":266.25,"p":1.2395},{"b":"L","i":268.75,"p":1.2372},{"b":"L","i":271.25,"p":1.2342},{"b":"L","i":272,"p":1.2328},{"b":"L","i":273.75,"p":1.2330},{"b":"L","i":275.25,"p":1.2346},{"b":"L","i":277,"p":1.2361},{"b":"L","i":280.25,"p":1.2364},{"b":"L","i":285.25,"p":1.2368},{"b":"L","i":287,"p":1.2365},{"b":"L","i":289.5,"p":1.2355},{"b":"L","i":292.75,"p":1.2339},{"b":"L","i":295.75,"p":1.2312},{"b":"L","i":298.25,"p":1.2291},{"b":"L","i":300.75,"p":1.2289},{"b":"L","i":302.75,"p":1.2298},{"b":"L","i":307.75,"p":1.2307},{"b":"L","i":312,"p":1.2319},{"b":"L","i":313.75,"p":1.2330},{"b":"L","i":316.25,"p":1.2339},{"b":"L","i":320.25,"p":1.2344},{"b":"L","i":324.5,"p":1.2340},{"b":"L","i":328.75,"p":1.2337},{"b":"L","i":332,"p":1.2327},{"b":"L","i":334.5,"p":1.2319},{"b":"L","i":337,"p":1.2312},{"b":"L","i":338.75,"p":1.2317},{"b":"L","i":340.25,"p":1.2327},{"b":"L","i":342.75,"p":1.2337},{"b":"L","i":344.5,"p":1.2351},{"b":"L","i":346.25,"p":1.2372},{"b":"L","i":347.75,"p":1.2390},{"b":"L","i":349.5,"p":1.2414},{"b":"L","i":350.25,"p":1.2428},{"b":"L","i":352,"p":1.2435},{"b":"L","i":353.75,"p":1.2440},{"b":"L","i":355.25,"p":1.2445},{"b":"L","i":360.25,"p":1.2445},{"b":"L","i":362,"p":1.2444},{"b":"L","i":363.75,"p":1.2437},{"b":"L","i":366.25,"p":1.2428},{"b":"L","i":368.75,"p":1.2422},{"b":"L","i":371.25,"p":1.2421}
],
"zz":[
{"i":0,"p":1.2531},{"i":27,"p":1.2579},{"i":31,"p":1.2512},{"i":35,"p":1.2565},{"i":68,"p":1.2427},{"i":101,"p":1.2500},{"i":125,"p":1.2423},{"i":131,"p":1.2448},{"i":132,"p":1.2411},{"i":141,"p":1.2473},{"i":150,"p":1.2407},{"i":174,"p":1.2483},{"i":186,"p":1.2424},{"i":208,"p":1.2485},{"i":240,"p":1.2390},{"i":258,"p":1.2469},{"i":266,"p":1.2367},{"i":270,"p":1.2377},{"i":271,"p":1.2366},{"i":279,"p":1.2392},{"i":297,"p":1.2300},{"i":337,"p":1.2459},{"i":338,"p":1.2424},{"i":343,"p":1.2459},{"i":347,"p":1.2442},{"i":355,"p":1.2465},{"i":365,"p":1.2423}
],
"levels":[{"v":1.24646,"k":"level"},{"v":1.24416,"k":"level"},{"v":1.24343,"k":"price"}]
},
"layer":[
{"data":{"values":[{"v":1.24343}]},"mark":{"type":"rule","color":"#c8c8c8","strokeWidth":1},
 "encoding":{"y":{"field":"v","type":"quantitative","title":null,"scale":{"domain":[1.2293,1.25955],"nice":false,"zero":false},
  "axis":{"orient":"right","values":[1.2587,1.25665,1.2546,1.25255,1.2505,1.24845,1.24435,1.2423,1.24025,1.2382,1.23615,1.2341,1.23205,1.23],"format":".5f","tickSize":3,"tickColor":"#000","domainColor":"#333","labelFont":"Liberation Sans","labelFontSize":10,"labelColor":"#000","labelPadding":2,"grid":false,"title":null,"labelOverlap":false,"labelBound":false,"zindex":0}}}},
{"data":{"name":"candles"},"mark":{"type":"rule","strokeWidth":1,"clip":true,"xOffset":0.5},
 "encoding":{"x":{"field":"i","type":"quantitative","scale":{"domain":[-0.5,466],"nice":false,"zero":false},"axis":null},
  "y":{"field":"l","type":"quantitative","title":null},"y2":{"field":"h"},
  "color":{"condition":{"test":"datum.c>=datum.o","value":"#6e6e6e"},"value":"#000000"}}},
{"data":{"name":"candles"},"mark":{"type":"bar","size":3,"strokeWidth":1,"clip":true,"xOffset":0.5},
 "encoding":{"x":{"field":"i","type":"quantitative","axis":null},
  "y":{"field":"o","type":"quantitative","title":null},"y2":{"field":"c"},
  "fill":{"condition":{"test":"datum.c>=datum.o","value":"#ffffff"},"value":"#000000"},
  "stroke":{"condition":{"test":"datum.c>=datum.o","value":"#6e6e6e"},"value":"#000000"}}},
{"data":{"name":"bands"},"mark":{"type":"line","color":"#2e8b57","strokeWidth":1.7,"interpolate":"monotone","clip":true},
 "encoding":{"x":{"field":"i","type":"quantitative","axis":null},"y":{"field":"p","type":"quantitative","title":null},"detail":{"field":"b"}}},
{"data":{"name":"zz"},"mark":{"type":"line","color":"#ff0000","strokeWidth":1.6,"clip":true},
 "encoding":{"x":{"field":"i","type":"quantitative","axis":null},"y":{"field":"p","type":"quantitative","title":null}}},
{"data":{"values":[{"v":1.24646},{"v":1.24416}]},"mark":{"type":"rule","color":"#9400d3","strokeWidth":3},
 "encoding":{"y":{"field":"v","type":"quantitative","title":null}}},
{"data":{"name":"levels"},"mark":{"type":"bar","size":11,"orient":"horizontal"},
 "encoding":{"x":{"datum":466.4,"axis":null},"x2":{"datum":477.5},"y":{"field":"v","type":"quantitative","title":null},
  "color":{"field":"k","type":"nominal","scale":{"domain":["level","price"],"range":["#9400d3","#000000"]},"legend":null}}},
{"data":{"name":"levels"},"mark":{"type":"text","align":"left","baseline":"middle","color":"#ffffff","font":"Liberation Sans","fontSize":10},
 "encoding":{"x":{"datum":466.9,"axis":null},"y":{"field":"v","type":"quantitative","title":null},"text":{"field":"v","format":".5f"}}},
{"data":{"values":[{"t":"BB ON"}]},"mark":{"type":"bar","size":14,"orient":"horizontal","color":"#000000","cornerRadius":2},
 "encoding":{"x":{"datum":450.75,"axis":null},"x2":{"datum":464.75},"y":{"datum":1.23585,"title":null}}},
{"data":{"values":[{"t":"BB ON"}]},"mark":{"type":"text","align":"center","baseline":"middle","color":"#ffffff","font":"Liberation Sans","fontSize":9.5},
 "encoding":{"x":{"datum":457.75,"axis":null},"y":{"datum":1.23585,"title":null},"text":{"field":"t"}}},
{"data":{"values":[{"t":"GBPUSD,M30  1.24350 1.24367 1.24279 1.24343"}]},"mark":{"type":"text","align":"left","baseline":"middle","color":"#000000","font":"Liberation Sans","fontSize":10},
 "encoding":{"x":{"datum":3.5,"axis":null},"y":{"datum":1.25903,"title":null},"text":{"field":"t"}}},
{"data":{"values":[{"t":"▼"}]},"mark":{"type":"text","align":"center","baseline":"middle","color":"#000000","font":"DejaVu Sans","fontSize":7},
 "encoding":{"x":{"datum":1.6,"axis":null},"y":{"datum":1.25903,"title":null},"text":{"field":"t"}}},
{"data":{"values":[{"t":"▼"}]},"mark":{"type":"text","align":"center","baseline":"middle","color":"#a8a8a8","font":"DejaVu Sans","fontSize":8},
 "encoding":{"x":{"datum":380.75,"axis":null},"y":{"datum":1.25937,"title":null},"text":{"field":"t"}}}
]
}
